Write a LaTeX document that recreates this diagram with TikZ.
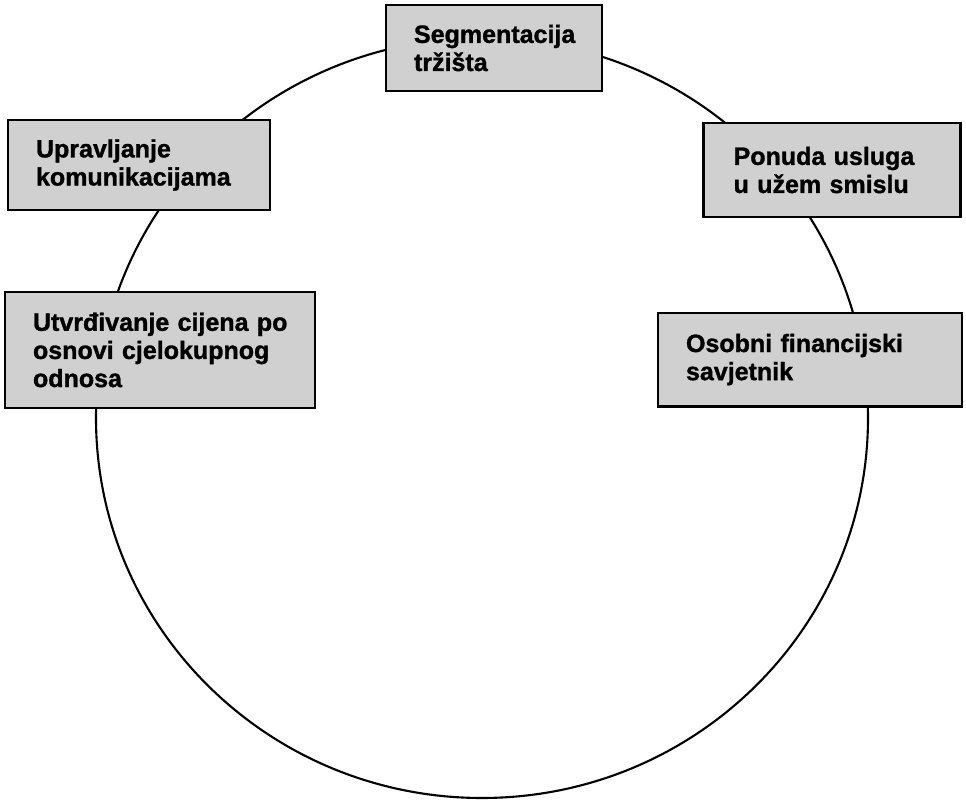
\documentclass[tikz,border=0pt]{standalone}
\usepackage{fontspec}
\setmainfont{Liberation Sans}
\newfontfamily\heavyfont{Liberation Sans Bold}[FakeBold=1.2]
\usetikzlibrary{positioning,calc}
\definecolor{boxfill}{RGB}{208,208,208}

\begin{document}
\begin{tikzpicture}[
    box/.style={rectangle, draw, line width=2pt, fill=boxfill, align=left, inner xsep=0.7cm, inner ysep=0pt, font=\heavyfont\fontsize{17.8}{20}\selectfont},
    ring/.style={line width=1.5pt}
]
\useasboundingbox (0,0) rectangle (24.15,20);

% Ring
\draw[ring] (12.05,9.55) ellipse [x radius=9.65, y radius=9.5];

% Boxes on the ring
\node[box, minimum width=5.4cm, minimum height=2.15cm, text width=4.0cm] (segment) at (12.35,18.8) {Segmentacija\\tržišta};
\node[box, minimum width=6.425cm, minimum height=2.35cm, text width=4.9cm, inner xsep=0.76cm] (ponuda) at (20.79,15.75) {Ponuda usluga\\u užem smislu};
\node[box, minimum width=7.6cm, minimum height=2.325cm, text width=6.2cm] (savjetnik) at (20.25,11.01) {Osobni financijski\\savjetnik};
\node[box, minimum width=7.75cm, minimum height=2.9cm, text width=7.35cm, inner xsep=0.2cm] (cijena) at (4.0,11.25) {\hspace*{0.5cm}Utvrđivanje cijena po\\\hspace*{0.5cm}osnovi cjelokupnog\\\hspace*{0.5cm}odnosa};
\node[box, minimum width=6.55cm, minimum height=2.25cm, text width=5.15cm] (komunik) at (3.475,15.875) {Upravljanje\\komunikacijama};

\end{tikzpicture}
\end{document}
